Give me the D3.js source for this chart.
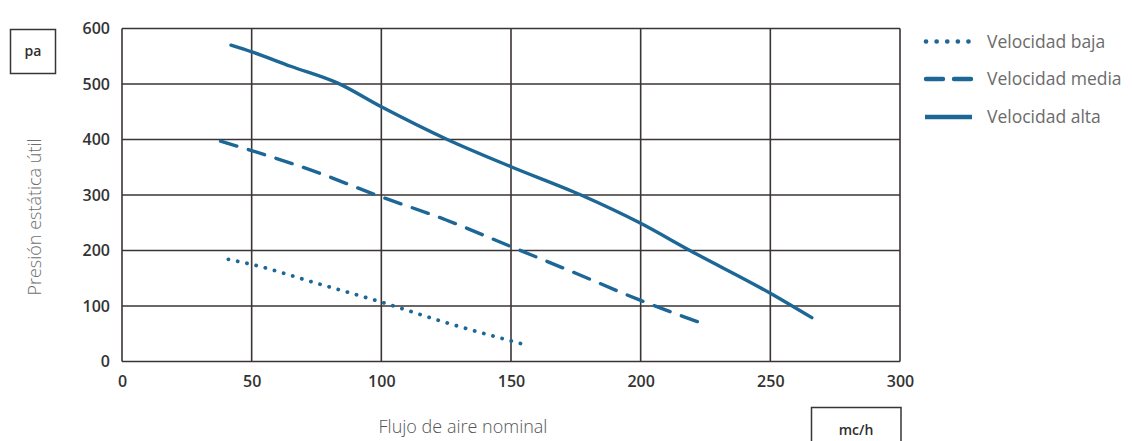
<!DOCTYPE html>
<html><head><meta charset="utf-8">
<script src="https://cdn.jsdelivr.net/npm/d3@7"></script>
<style>
body{margin:0;background:#fff;}
svg{display:block;}
</style></head>
<body>
<svg id="chart" width="1132" height="441"></svg>
<script>
const xTicks = [0, 50, 100, 150, 200, 250, 300];
const yTicks = [0, 100, 200, 300, 400, 500, 600];
const seriesNames = ["Velocidad baja", "Velocidad media", "Velocidad alta"];
const bajaX = [41, 50, 75, 100, 125, 154];
const bajaY = [184, 175, 141, 107, 70, 32];
const mediaX = [38, 50, 74, 98, 125, 150, 175, 200, 226];
const mediaY = [397, 380, 343, 300, 255, 207, 159, 110, 65];
const altaX = [42, 50, 65, 83, 100, 125, 150, 177, 200, 219, 250, 266];
const altaY = [570, 558, 532, 502, 459, 401, 351, 300, 249, 200, 123, 79];
const yUnit = "pa", xUnit = "mc/h";
const yTitle = "Presión estática útil", xTitle = "Flujo de aire nominal";

const svg = d3.select("#chart");
const L = 122, R = 900, T = 28.5, B = 361.5;
const x = d3.scaleLinear().domain([0, 300]).range([L, R]);
const y = d3.scaleLinear().domain([0, 600]).range([B, T]);
const gridColor = "#3b3434";
const lineColor = "#1c6796";

// grid
const g = svg.append("g");
g.selectAll("line.v").data(xTicks).join("line")
  .attr("x1", d => x(d)).attr("x2", d => x(d)).attr("y1", T).attr("y2", B)
  .attr("stroke", gridColor).attr("stroke-width", 1.6);
g.selectAll("line.h").data(yTicks).join("line")
  .attr("y1", d => y(d)).attr("y2", d => y(d)).attr("x1", L).attr("x2", R)
  .attr("stroke", gridColor).attr("stroke-width", 1.6);

// axes labels via d3 axes
const tickFont = "'Open Sans', sans-serif";
const yAxis = svg.append("g").attr("transform", `translate(${L - 12},0)`)
  .call(d3.axisLeft(y).tickValues(yTicks).tickSize(0).tickPadding(0));
yAxis.select(".domain").remove();
yAxis.selectAll("text").attr("font-family", tickFont).attr("font-size", 16)
  .attr("font-weight", 600).attr("fill", "#333");
const xAxis = svg.append("g").attr("transform", `translate(0,${B + 14})`)
  .call(d3.axisBottom(x).tickValues(xTicks).tickSize(0).tickPadding(0));
xAxis.select(".domain").remove();
xAxis.selectAll("text").attr("font-family", tickFont).attr("font-size", 16)
  .attr("font-weight", 600).attr("fill", "#333");

// series
const line = d3.line().x(d => x(d[0])).y(d => y(d[1])).curve(d3.curveMonotoneX);
const series = [
  {name: seriesNames[0], pts: d3.zip(bajaX, bajaY), type: "dot"},
  {name: seriesNames[1], pts: d3.zip(mediaX, mediaY), type: "dash"},
  {name: seriesNames[2], pts: d3.zip(altaX, altaY), type: "solid"}
];
const dashFor = {dot: "0.1 9.4", dash: "17 12", solid: null};
svg.append("g").selectAll("path").data(series).join("path")
  .attr("d", d => line(d.pts))
  .attr("fill", "none").attr("stroke", lineColor)
  .attr("stroke-width", d => d.type === "dot" ? 3.8 : 3.4)
  .attr("stroke-linecap", "round")
  .attr("stroke-dasharray", d => dashFor[d.type]);

// legend
const leg = svg.append("g");
const legY = [41.5, 79, 117];
const legDash = {dot: "0.1 10.5", dash: "17 11", solid: null};
series.forEach((s, i) => {
  leg.append("line")
    .attr("x1", s.type === "solid" ? 925 : 926)
    .attr("x2", s.type === "dot" ? 969 : (s.type === "dash" ? 971 : 972))
    .attr("y1", legY[i]).attr("y2", legY[i])
    .attr("stroke", lineColor).attr("stroke-width", s.type === "dot" ? 4.6 : 4.4)
    .attr("stroke-linecap", s.type === "solid" ? "butt" : "round")
    .attr("stroke-dasharray", legDash[s.type]);
  leg.append("text").attr("x", 987).attr("y", legY[i]).attr("dy", "0.35em")
    .attr("font-family", "'Open Sans', sans-serif").attr("font-size", 17.5)
    .attr("fill", "#6b6b6b").text(s.name);
});

// unit boxes
svg.append("rect").attr("x", 10.5).attr("y", 29.5).attr("width", 45).attr("height", 44)
  .attr("fill", "none").attr("stroke", gridColor).attr("stroke-width", 1.5);
svg.append("text").attr("x", 33).attr("y", 51).attr("dy", "0.35em").attr("text-anchor", "middle")
  .attr("font-family", tickFont).attr("font-size", 14).attr("font-weight", 600).attr("fill", "#2e2e2e").text(yUnit);
svg.append("rect").attr("x", 811.5).attr("y", 407.5).attr("width", 89.5).attr("height", 50)
  .attr("fill", "none").attr("stroke", gridColor).attr("stroke-width", 1.5);
svg.append("text").attr("x", 856).attr("y", 430).attr("dy", "0.35em").attr("text-anchor", "middle")
  .attr("font-family", tickFont).attr("font-size", 14).attr("font-weight", 600).attr("fill", "#2e2e2e").text(xUnit);

// titles
svg.append("text").attr("transform", "translate(35,217) rotate(-90)").attr("dy", "0.35em")
  .attr("text-anchor", "middle").attr("font-family", "'Open Sans', sans-serif").attr("font-weight", 300)
  .attr("font-size", 18).attr("fill", "#6e6e6e").text(yTitle);
svg.append("text").attr("x", 463).attr("y", 427).attr("dy", "0.35em")
  .attr("text-anchor", "middle").attr("font-family", "'Open Sans', sans-serif").attr("font-weight", 300)
  .attr("font-size", 18).attr("fill", "#555").text(xTitle);
</script>
</body></html>
